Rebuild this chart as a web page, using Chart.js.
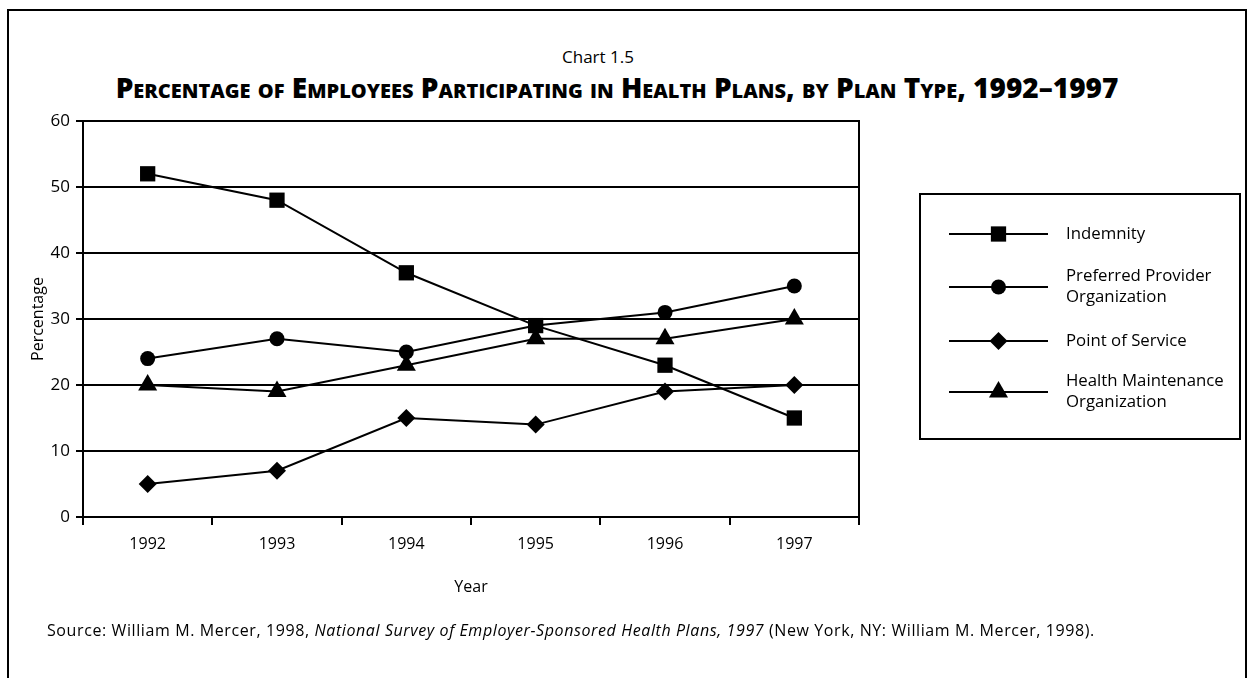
<!DOCTYPE html>
<html>
<head>
<meta charset="utf-8">
<title>Chart 1.5</title>
<script src="https://cdn.jsdelivr.net/npm/chart.js@4.4.1/dist/chart.umd.min.js"></script>
<style>
    html, body { margin: 0; padding: 0; background: #fff; }
    body { width: 1251px; height: 678px; position: relative; overflow: hidden; font-family: 'Open Sans', sans-serif; color: #000; }
    .frame { position: absolute; left: 7px; top: 9px; width: 1236px; height: 720px; border: 2px solid #000; }
    .kicker { position: absolute; left: 0; width: 1196px; top: 45px; text-align: center; font-size: 17px; }
    .title { position: absolute; left: 0; width: 1234px; top: 73px; line-height: 1; text-align: center; font-size: 28px; font-weight: 800; font-variant: small-caps; white-space: nowrap; }
    .source { position: absolute; left: 47px; top: 619px; font-size: 16px; letter-spacing: 0.6px; white-space: nowrap; }
    #wrap { position: absolute; left: 0; top: 0; width: 1251px; height: 678px; }
</style>
</head>
<body>
<div class="frame"></div>
<div class="kicker">Chart 1.5</div>
<div class="title">Percentage of Employees Participating in Health Plans, by Plan Type, 1992–1997</div>
<div id="wrap"><canvas id="planChart"></canvas></div>
<div class="source">Source: William M. Mercer, 1998, <i>National Survey of Employer-Sponsored Health Plans, 1997</i> (New York, NY: William M. Mercer, 1998).</div>

<script>
// Datos
const years = ['1992', '1993', '1994', '1995', '1996', '1997'];
const seriesNames = ['Indemnity', 'Preferred Provider Organization', 'Point of Service', 'Health Maintenance Organization'];
const indemnity = [52, 48, 37, 29, 23, 15];
const ppo = [24, 27, 25, 29, 31, 35];
const pos = [5, 7, 15, 14, 19, 20];
const hmo = [20, 19, 23, 27, 27, 30];
const yTicks = [0, 10, 20, 30, 40, 50, 60];

const markers = ['rect', 'circle', 'rectRot', 'triangle'];
const markerSizes = [10.8, 7.5, 9, 11];

Chart.defaults.font.family = "'Open Sans', sans-serif";
Chart.defaults.color = '#000';

// Leyenda con recuadro, línea y marcador
const boxLegend = {
    id: 'boxLegend',
    afterDraw(chart, args, opts) {
        const ctx = chart.ctx;
        ctx.save();
        ctx.strokeStyle = '#000';
        ctx.fillStyle = '#000';
        ctx.lineWidth = 2;
        ctx.strokeRect(opts.left, opts.top, opts.width, opts.height);
        ctx.font = opts.font;
        ctx.textBaseline = 'middle';
        ctx.textAlign = 'left';

        chart.data.datasets.forEach((ds, i) => {
            const y = opts.rows[i];
            ctx.beginPath();
            ctx.moveTo(opts.lineFrom, y);
            ctx.lineTo(opts.lineTo, y);
            ctx.stroke();
            Chart.helpers.drawPoint(ctx, {
                pointStyle: ds.pointStyle,
                radius: ds.pointRadius,
                rotation: 0,
                borderWidth: 0
            }, (opts.lineFrom + opts.lineTo) / 2, y);

            // partir el texto en líneas
            const lines = [];
            let cur = '';
            ds.label.split(' ').forEach(w => {
                const test = cur ? cur + ' ' + w : w;
                if (cur && ctx.measureText(test).width > opts.textWidth) {
                    lines.push(cur);
                    cur = w;
                } else {
                    cur = test;
                }
            });
            lines.push(cur);
            lines.forEach((t, j) => {
                ctx.fillText(t, opts.textX, y + (j - (lines.length - 1) / 2) * opts.lineHeight);
            });
        });
        ctx.restore();
    }
};

const seriesData = [indemnity, ppo, pos, hmo];

new Chart(document.getElementById('planChart'), {
    type: 'line',
    data: {
        labels: years,
        datasets: seriesData.map((d, i) => ({
            label: seriesNames[i],
            data: d,
            borderColor: '#000',
            borderWidth: 2,
            backgroundColor: '#000',
            pointBackgroundColor: '#000',
            pointBorderWidth: 0,
            pointStyle: markers[i],
            pointRadius: markerSizes[i],
            pointHoverRadius: markerSizes[i],
            tension: 0,
            clip: false
        }))
    },
    options: {
        responsive: true,
        maintainAspectRatio: false,
        animation: false,
        events: [],
        layout: {
            padding: { top: 121, right: 392, bottom: 71, left: 0 }
        },
        plugins: {
            legend: { display: false },
            tooltip: { enabled: false },
            boxLegend: {
                left: 920, top: 194, width: 320, height: 245,
                lineFrom: 949, lineTo: 1048,
                textX: 1066, textWidth: 165,
                rows: [234, 287, 341, 392],
                lineHeight: 21,
                font: "16.8px 'Open Sans', sans-serif"
            }
        },
        scales: {
            x: {
                type: 'category',
                offset: true,
                afterFit: s => { s.height = 90; },
                grid: {
                    offset: true,
                    drawOnChartArea: false,
                    drawTicks: true,
                    tickLength: 8,
                    color: '#000',
                    lineWidth: 2
                },
                border: { display: true, color: '#000', width: 2 },
                ticks: { font: { size: 16 }, padding: 10, color: '#000', maxRotation: 0 },
                title: {
                    display: true,
                    text: 'Year',
                    font: { size: 16 },
                    padding: { top: 0, bottom: 10 }
                }
            },
            y: {
                min: 0,
                max: 60,
                afterFit: s => { s.width = 83; },
                afterBuildTicks: s => { s.ticks = yTicks.map(v => ({ value: v })); },
                grid: { color: '#000', lineWidth: 2, tickLength: 7, drawTicks: true },
                border: { display: true, color: '#000', width: 2 },
                ticks: { font: { size: 17 }, padding: 6, color: '#000' },
                title: {
                    display: true,
                    text: 'Percentage',
                    font: { size: 16 },
                    padding: { top: 29, bottom: 0 }
                }
            },
            y2: {
                position: 'right',
                min: 0,
                max: 60,
                afterFit: s => { s.width = 0; },
                grid: { drawOnChartArea: false, drawTicks: false },
                border: { display: true, color: '#000', width: 2 },
                ticks: { display: false }
            }
        }
    },
    plugins: [boxLegend]
});
</script>
</body>
</html>
